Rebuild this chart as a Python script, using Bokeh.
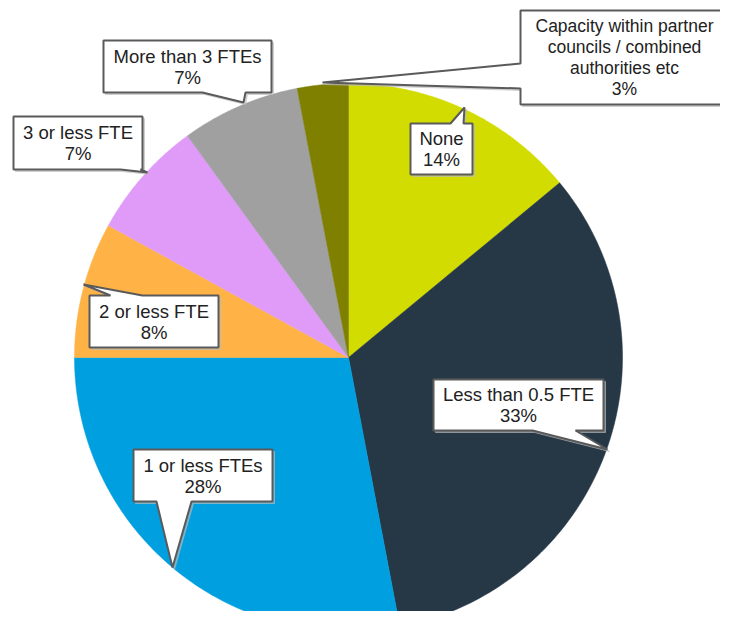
import numpy as np
from bokeh.plotting import figure
from bokeh.models import Range1d, ColumnDataSource
from bokeh.embed import file_html
from bokeh.resources import INLINE
from bokeh.core.properties import value

# ---- data ----
categories = ["None", "Less than 0.5 FTE", "1 or less FTEs", "2 or less FTE",
              "3 or less FTE", "More than 3 FTEs",
              "Capacity within partner councils / combined authorities etc"]
label_lines = [["None"], ["Less than 0.5 FTE"], ["1 or less FTEs"], ["2 or less FTE"],
               ["3 or less FTE"], ["More than 3 FTEs"],
               ["Capacity within partner", "councils / combined", "authorities etc"]]
percent = [14, 33, 28, 8, 7, 7, 3]

# ---- style / layout ----
colors = ["#D3DC00", "#263746", "#009FDF", "#FFB347", "#E09BF8", "#A0A0A0", "#7F7F00"]
CX, CY, R = 348, 357, 274
# callout boxes: (x0, y0, x1, y1), pointer side, pointer base span, tip
boxes = [(410, 123, 472, 174), (433, 379, 603, 430), (133, 449, 272, 501),
         (89, 295, 218, 347), (13, 116, 142, 169), (103, 40, 271, 92),
         (520, 10, 728, 104)]
sides = ["top", "bottom", "bottom", "top", "bottom", "bottom", "left"]
bases = [(450, 463), (532, 575), (156, 191), (110, 142), (120, 140), (202, 245), (63, 88)]
tips = [(464, 107), (607, 449), (172, 567), (83, 284), (147, 172), (243, 102), (322, 82)]
LINE_H = 21
FONT = "Liberation Sans"
FONT_SIZES = ["18.5px"] * 6 + ["17.5px"]

W, H = 720, 611
p = figure(width=W, height=H, x_range=Range1d(0, W), y_range=Range1d(H, 0),
           output_backend="svg", toolbar_location=None, min_border=0)
p.axis.visible = False
p.grid.visible = False
p.outline_line_color = None

# wedges
total = float(sum(percent))
cum = np.concatenate([[0], np.cumsum(percent)]) / total * 2 * np.pi
xs, ys = [], []
for i in range(len(percent)):
    th = np.linspace(cum[i], cum[i + 1], 120)
    xs.append(np.concatenate([[CX], CX + R * np.sin(th)]).tolist())
    ys.append(np.concatenate([[CY], CY - R * np.cos(th)]).tolist())
p.patches(xs, ys, fill_color=colors, line_color=colors, line_width=0.5)

# callouts
cxs, cys, sxs, sys_ = [], [], [], []
for (x0, y0, x1, y1), side, (b0, b1), (tx, ty) in zip(boxes, sides, bases, tips):
    if side == "top":
        px = [x0, b0, tx, b1, x1, x1, x0]
        py = [y0, y0, ty, y0, y0, y1, y1]
    elif side == "bottom":
        px = [x0, x1, x1, b1, tx, b0, x0]
        py = [y0, y0, y1, y1, ty, y1, y1]
    else:  # left
        px = [x0, x1, x1, x0, x0, tx, x0]
        py = [y0, y0, y1, y1, b1, ty, b0]
    cxs.append(px)
    cys.append(py)
    sxs.append([v + 2 for v in px])
    sys_.append([v + 2 for v in py])
p.patches(sxs, sys_, fill_color="#BBBBBB", line_color="#BBBBBB", fill_alpha=0.6, line_alpha=0.6)
p.patches(cxs, cys, fill_color="white", line_color="#5A5A5A", line_width=2)

tx_, ty_, tt_, fs_ = [], [], [], []
for (x0, y0, x1, y1), lines, pc, fs in zip(boxes, label_lines, percent, FONT_SIZES):
    all_lines = lines + ["%d%%" % pc]
    n = len(all_lines)
    mx = (x0 + x1) / 2
    my = (y0 + y1) / 2
    for k, t in enumerate(all_lines):
        tx_.append(mx)
        ty_.append(my + (k - (n - 1) / 2) * LINE_H)
        tt_.append(t)
        fs_.append(fs)
src = ColumnDataSource(dict(x=tx_, y=ty_, text=tt_, fs=fs_))
p.text(x="x", y="y", text="text", source=src, text_align="center", text_baseline="middle",
       text_font=value(FONT), text_font_size="fs", text_color="#222222")

open("out.html", "w").write(file_html(p, INLINE))
